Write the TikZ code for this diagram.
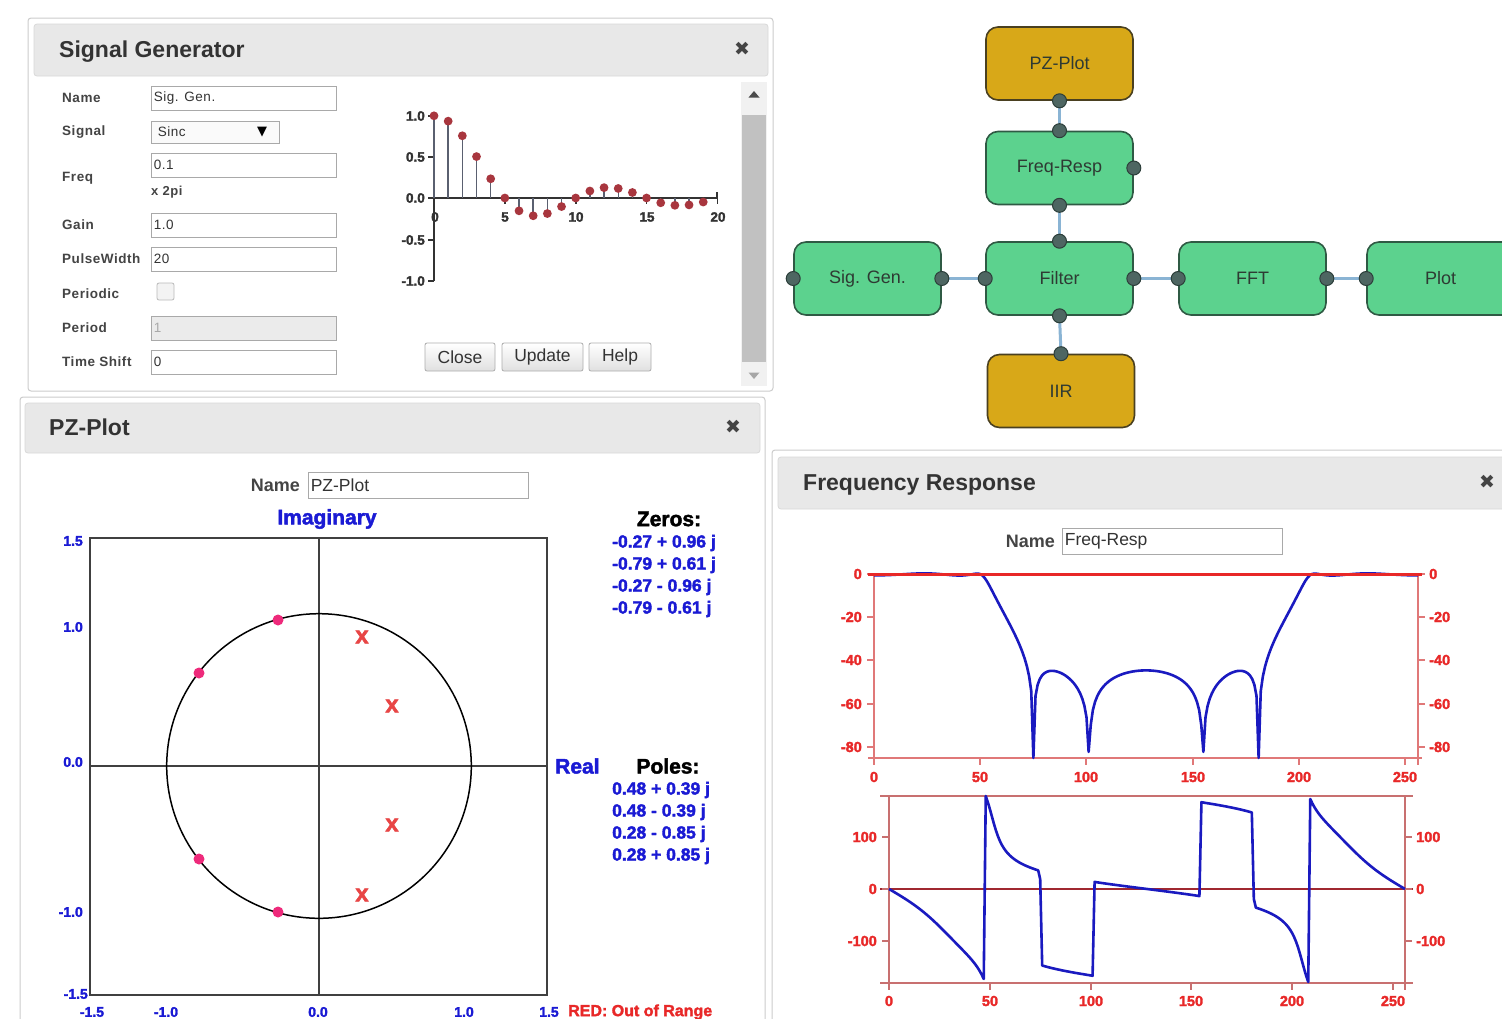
\documentclass[tikz,border=0pt]{standalone}
\usepackage{fontspec}
\setmainfont{Liberation Sans}
\newfontfamily\dejavu{DejaVu Sans}
\newfontfamily\spaced[LetterSpace=4]{Liberation Sans}
\newfontfamily\heavy[BoldFeatures={FakeBold=2}]{Liberation Sans}
\usepackage{pgfplots}
\pgfplotsset{compat=1.18}
\newcommand\fsz[1]{\fontsize{#1pt}{#1pt}\selectfont}

\definecolor{panelline}{HTML}{CCCCCC}
\definecolor{headgray}{HTML}{E8E8E8}
\definecolor{headline}{HTML}{D9D9D9}
\definecolor{titletext}{HTML}{333333}
\definecolor{labeltext}{HTML}{444444}
\definecolor{boxline}{HTML}{A9A9A9}
\definecolor{selectfill}{HTML}{FAFAFA}
\definecolor{periodfill}{HTML}{EBEBEB}
\definecolor{btnline}{HTML}{ADADAD}
\definecolor{btnbottom}{HTML}{E0E0E0}
\definecolor{trackfill}{HTML}{F1F1F1}
\definecolor{thumbfill}{HTML}{C1C1C1}
\definecolor{blockgreen}{HTML}{5CD28E}
\definecolor{blockgold}{HTML}{D8A818}
\definecolor{blockline}{HTML}{2F5A44}
\definecolor{goldline}{HTML}{4A4020}
\definecolor{blocktext}{HTML}{2E3A33}
\definecolor{portfill}{HTML}{4E6662}
\definecolor{portline}{HTML}{2C3E3A}
\definecolor{wirecol}{HTML}{8AB4D4}
\definecolor{stemline}{HTML}{5A6070}
\definecolor{stemdot}{HTML}{A8363E}
\definecolor{stemaxis}{HTML}{333333}
\definecolor{pzblue}{HTML}{1A1AD4}
\definecolor{pzframe}{HTML}{404040}
\definecolor{zeropink}{HTML}{EE2A7B}
\definecolor{polered}{HTML}{E84545}
\definecolor{axred}{HTML}{E07878}
\definecolor{topred}{HTML}{E82828}
\definecolor{labred}{HTML}{E82828}
\definecolor{phaxis}{HTML}{C87070}
\definecolor{zeroline}{HTML}{A02830}
\definecolor{curveblue}{HTML}{1A1AC0}

\tikzset{
  panel/.style={draw=panelline, line width=1pt, fill=white, rounded corners=3pt},
  header/.style={fill=headgray, draw=headline, line width=0.8pt, rounded corners=3pt},
  ptitle/.style={anchor=base west, font=\fsz{23}\bfseries, text=titletext, inner sep=0pt},
  closex/.style={font=\dejavu\fsz{19}, text=labeltext, inner sep=0pt},
  flabel/.style={anchor=west, font=\spaced\fsz{13.5}\bfseries, text=labeltext, inner sep=0pt},
  field/.style={draw=boxline, line width=0.8pt, fill=white, inner sep=0pt},
  ftext/.style={anchor=west, font=\spaced\fsz{13.5}, text=titletext, inner sep=0pt},
  btn/.style={draw=btnline, line width=0.8pt, rounded corners=2pt, top color=white,
    bottom color=btnbottom, minimum height=28pt, font=\fsz{17.5}, text=titletext, inner sep=0pt},
  slab/.style={font=\heavy\fsz{13.5}\bfseries, text=stemaxis, inner sep=0pt},
  saxis/.style={draw=stemaxis, line width=1.6pt},
  stem/.style={draw=stemline, line width=1.4pt},
  block/.style={rectangle, rounded corners=12pt, minimum width=147pt, minimum height=73pt,
    draw=blockline, line width=1.6pt, fill=blockgreen, font=\fsz{18}, text=blocktext},
  goldblock/.style={block, fill=blockgold, draw=goldline},
  port/.style={circle, fill=portfill, draw=portline, line width=1pt, minimum size=14pt, inner sep=0pt},
  wire/.style={draw=wirecol, line width=3pt},
  namelab/.style={anchor=east, font=\fsz{18}\bfseries, text=labeltext, inner sep=0pt},
  nametext/.style={anchor=west, font=\fsz{17.5}, text=titletext, inner sep=0pt},
  pzlab/.style={font=\heavy\fsz{14}\bfseries, text=pzblue, inner sep=0pt},
  pzhead/.style={font=\heavy\fsz{21}\bfseries, inner sep=0pt},
  pzval/.style={anchor=west, font=\heavy\fsz{17.5}\bfseries, text=pzblue, inner sep=0pt},
  zdot/.style={circle, fill=zeropink, minimum size=11pt, inner sep=0pt},
  pmark/.style={font=\heavy\fsz{24}\bfseries, text=polered, inner sep=0pt},
  mlab/.style={font=\heavy\fsz{14.5}\bfseries, text=labred, inner sep=0pt},
  maxis/.style={draw=axred, line width=1.5pt},
  paxis/.style={draw=phaxis, line width=1.5pt},
  curve/.style={draw=curveblue, line width=2.6pt, line join=round},
}

\begin{document}
\begin{tikzpicture}[x=1pt,y=-1pt]
\useasboundingbox (0,0) rectangle (1502,1018);
\fill[white] (0,0) rectangle (1502,1018);

% ---------------- Signal Generator dialog ----------------
\draw[panel] (28,18) rectangle (773,391);
\path[header] (34,24) rectangle (768,76);
\node[ptitle] (sgTitle) at (59,57) {Signal Generator};
\node[closex] (sgClose) at (742,49) {✖};

\foreach \lab/\yy [count=\i] in {Name/98, Signal/132, Freq/178, Gain/225,
    PulseWidth/259, Periodic/294, Period/328, Time Shift/362}
  \node[flabel] (sgLab\i) at (62,\yy) {\lab};

\node[field, minimum width=185pt, minimum height=24pt] (fName) at (243.5,98) {};
\node[ftext] (tName) at ([xshift=3pt]fName.west) {Sig. Gen.};
\node[field, fill=selectfill, minimum width=128pt, minimum height=22pt] (fSignal) at (215,132) {};
\node[ftext] (tSignal) at ([xshift=7pt]fSignal.west) {Sinc};
\node[font=\dejavu\fsz{13}, text=black, inner sep=0pt] (tArrow) at (262,132) {▼};
\node[field, minimum width=185pt, minimum height=24pt] (fFreq) at (243.5,165) {};
\node[ftext] (tFreq) at ([xshift=3pt]fFreq.west) {0.1};
\node[flabel, font=\spaced\fsz{13}\bfseries] (tUnit) at (151,192) {x 2pi};
\node[field, minimum width=185pt, minimum height=24pt] (fGain) at (243.5,225) {};
\node[ftext] (tGain) at ([xshift=3pt]fGain.west) {1.0};
\node[field, minimum width=185pt, minimum height=24pt] (fPulse) at (243.5,259) {};
\node[ftext] (tPulse) at ([xshift=3pt]fPulse.west) {20};
\node[field, fill=periodfill!60, draw=boxline!80, rounded corners=2pt,
      minimum size=17pt] (fPeriodic) at (165.5,291.5) {};
\node[field, fill=periodfill, minimum width=185pt, minimum height=24pt] (fPeriod) at (243.5,328) {};
\node[ftext, text=boxline] (tPeriod) at ([xshift=3pt]fPeriod.west) {1};
\node[field, minimum width=185pt, minimum height=24pt] (fShift) at (243.5,362) {};
\node[ftext] (tShift) at ([xshift=3pt]fShift.west) {0};

% stem plot of the generated sinc
\draw[saxis] (434,116) -- (434,281);
\foreach \yy in {116,157,198,240,281}
  \draw[saxis] (428,\yy) -- (434,\yy);
\draw[saxis] (434,198) -- (717,198);
\foreach \k in {0,...,4}
  \draw[saxis] ({434+70.85*\k},198) -- ({434+70.85*\k},204);
\draw[saxis] (717,192) -- (717,198);
\foreach \v/\yy in {1.0/116, 0.5/157, 0.0/198, -0.5/240, -1.0/281}
  \node[slab, anchor=east] (sy\yy) at (425,\yy) {\v};
\foreach \n/\xx in {0/435, 5/505, 10/576, 15/647, 20/718}
  \node[slab] (sx\n) at (\xx,217) {\n};
\foreach \v [count=\i from 0] in {1,0.935,0.757,0.504,0.234,0,-0.156,-0.216,-0.189,-0.104,
    0,0.085,0.126,0.116,0.067,0,-0.058,-0.089,-0.084,-0.049} {
  \draw[stem] ({434+14.17*\i},198) -- ({434+14.17*\i},{198-82.2*(\v)});
  \fill[stemdot] ({434+14.17*\i},{198-82.2*(\v)}) circle (4.4);
}

\node[btn, minimum width=70pt] (bClose) at (460,357) {Close};
\node[btn, minimum width=81pt] (bUpdate) at (542.5,357) {Update};
\node[btn, minimum width=62pt] (bHelp) at (620,357) {Help};

% scroll bar
\fill[trackfill] (741,82) rectangle (767,386);
\fill[thumbfill] (742,115) rectangle (766,362);
\fill[black!70] (748.5,97.5) -- (759.5,97.5) -- (754,91) -- cycle;
\fill[black!35] (748.5,372.5) -- (759.5,372.5) -- (754,379) -- cycle;

% ---------------- block diagram ----------------
\node[goldblock] (PZ) at (1059.5,63.5) {PZ-Plot};
\node[block] (FR) at (1059.5,168) {Freq-Resp};
\node[block] (SG) at (867.5,278.5) {Sig. Gen.};
\node[block] (FL) at (1059.5,278.5) {Filter};
\node[block] (FFT) at (1252.5,278.5) {FFT};
\node[block] (PL) at (1440.5,278.5) {Plot};
\node[goldblock] (IIR) at (1061,391) {IIR};

\draw[wire] (PZ.south) -- (FR.north);
\draw[wire] (FR.south) -- (FL.north);
\draw[wire] (SG.east) -- (FL.west);
\draw[wire] (FL.east) -- (FFT.west);
\draw[wire] (FFT.east) -- (PL.west);
\draw[wire] (FL.south) -- (IIR.north);

\foreach \a in {PZ.south, FR.north, FR.east, FR.south, SG.west, SG.east,
    FL.west, FL.north, FL.east, FL.south, FFT.west, FFT.east, PL.west, IIR.north}
  \node[port] at (\a) {};

% ---------------- PZ-Plot dialog ----------------
\draw[panel] (20,397) rectangle (765,1040);
\path[header] (25,403) rectangle (760,453);
\node[ptitle] (pzTitle) at (49,435) {PZ-Plot};
\node[closex] (pzClose) at (733,427) {✖};
\node[namelab] (pzName) at (300,485) {Name};
\node[field, minimum width=220pt, minimum height=26pt] (pzField) at (418,485) {};
\node[nametext] (pzFieldText) at ([xshift=3pt]pzField.west) {PZ-Plot};

\node[pzhead, text=pzblue] (imagLab) at (327,519) {Imaginary};
\draw[draw=pzframe, line width=2.2pt] (90,538) rectangle (547,995);
\draw[draw=pzframe, line width=1.8pt] (319,538) -- (319,995);
\draw[draw=pzframe, line width=1.8pt] (90,766) -- (547,766);
\draw[black, line width=1.5pt] (319,766) circle (152.3);

\foreach \v/\yy in {1.5/541, 1.0/627, 0.0/762, -1.0/912}
  \node[pzlab, anchor=east] at (83,\yy) {\v};
\node[pzlab, anchor=east] (ylm15) at (88,994) {-1.5};
\foreach \v/\xx [count=\i] in {-1.5/92, -1.0/166, 0.0/318, 1.0/464, 1.5/549}
  \node[pzlab] (xl\i) at (\xx,1012) {\v};
\node[pzhead, text=pzblue, anchor=west] (realLab) at (555,766) {Real};

\node[zdot] (z1) at (278,620) {};
\node[zdot] (z2) at (199,673) {};
\node[zdot] (z3) at (199,859) {};
\node[zdot] (z4) at (278,912) {};
\node[pmark] (p1) at (362,637) {x};
\node[pmark] (p2) at (392,706) {x};
\node[pmark] (p3) at (392,825) {x};
\node[pmark] (p4) at (362,895) {x};

\node[pzhead, text=black] (zerosLab) at (669,519) {Zeros:};
\node[pzval] (zv1) at (612,543) {-0.27 + 0.96 j};
\node[pzval] (zv2) at (612,565) {-0.79 + 0.61 j};
\node[pzval] (zv3) at (612,587) {-0.27 - 0.96 j};
\node[pzval] (zv4) at (612,609) {-0.79 - 0.61 j};
\node[pzhead, text=black] (polesLab) at (668,766) {Poles:};
\node[pzval] (pv1) at (612,790) {0.48 + 0.39 j};
\node[pzval] (pv2) at (612,812) {0.48 - 0.39 j};
\node[pzval] (pv3) at (612,834) {0.28 - 0.85 j};
\node[pzval] (pv4) at (612,856) {0.28 + 0.85 j};
\node[anchor=west, font=\heavy\fsz{16}\bfseries, text=labred, inner sep=0pt] (oor) at (568,1012) {RED: Out of Range};

% ---------------- Frequency Response dialog ----------------
\draw[panel] (772,450) rectangle (1530,1040);
\path[header] (778,457) rectangle (1525,509);
\node[ptitle] (frTitle) at (803,490) {Frequency Response};
\node[closex] (frClose) at (1487,482) {✖};
\node[namelab] (frName) at (1055,541) {Name};
\node[field, minimum width=220pt, minimum height=26pt] (frField) at (1172,541) {};
\node[nametext] (frFieldText) at ([xshift=3pt]frField.west) {Freq-Resp};

% magnitude (dB) frame
\draw[maxis] (874,574) -- (874,758);
\draw[maxis] (1418,574) -- (1418,765);
\draw[maxis] (868,758) -- (1422,758);
\foreach \v/\yy in {0/574, -20/617, -40/660, -60/704, -80/747} {
  \draw[maxis] (867,\yy) -- (874,\yy);
  \draw[maxis] (1418,\yy) -- (1425,\yy);
  \node[mlab, anchor=east] at (862,\yy) {\v};
  \node[mlab, anchor=west] at (1429,\yy) {\v};
}
\foreach \v/\xx in {0/874, 50/980, 100/1086, 150/1193, 200/1299, 250/1405} {
  \draw[maxis] (\xx,758) -- (\xx,765);
  \node[mlab] at (\xx,777) {\v};
}

\begin{axis}[at={(874pt,-758pt)}, anchor=south west, scale only axis,
  width=544pt, height=184pt, xmin=0, xmax=256, ymin=-85, ymax=0,
  hide axis, clip=false,
  declare function={
    dd(\ww,\re,\im)=(cos(1.40625*\ww)-(\re))^2+(sin(1.40625*\ww)-(\im))^2;
  }]
\addplot[curve, domain=0:256, samples=257]
  {max(-85, 10*log10(max(1e-30,
     dd(x,-0.26724,0.96363)*dd(x,-0.26724,-0.96363)*dd(x,-0.79122,0.61153)*dd(x,-0.79122,-0.61153)
     /(dd(x,0.48,0.39)*dd(x,0.48,-0.39)*dd(x,0.28,0.85)*dd(x,0.28,-0.85)))) - 25.4)};
\end{axis}
\draw[draw=topred, line width=3pt] (868,574) -- (1422,574);

% phase (degrees) frame
\draw[paxis] (880,796) -- (1413,796);
\draw[paxis] (880,983) -- (1413,983);
\draw[paxis] (889,796) -- (889,983);
\draw[paxis] (1405,796) -- (1405,990);
\draw[draw=zeroline, line width=1.3pt] (880,889) -- (1413,889);
\foreach \v/\yy in {100/837, 0/889, -100/941} {
  \draw[paxis] (882,\yy) -- (889,\yy);
  \draw[paxis] (1405,\yy) -- (1412,\yy);
  \node[mlab, anchor=east] at (877,\yy) {\v};
  \node[mlab, anchor=west] at (1416,\yy) {\v};
}
\foreach \v/\xx in {0/889, 50/990, 100/1091, 150/1191, 200/1292, 250/1393} {
  \draw[paxis] (\xx,983) -- (\xx,990);
  \node[mlab] at (\xx,1001) {\v};
}

\begin{axis}[at={(889pt,-983pt)}, anchor=south west, scale only axis,
  width=516pt, height=187pt, xmin=0, xmax=256, ymin=-180, ymax=178,
  hide axis, clip=false,
  declare function={
    pp(\ww,\re,\im)=atan2(sin(1.40625*\ww)-(\im),cos(1.40625*\ww)-(\re));
  }]
\addplot[curve, domain=0:256, samples=257]
  {mod(pp(x,-0.26724,0.96363)+pp(x,-0.26724,-0.96363)+pp(x,-0.79122,0.61153)+pp(x,-0.79122,-0.61153)
      -pp(x,0.48,0.39)-pp(x,0.48,-0.39)-pp(x,0.28,0.85)-pp(x,0.28,-0.85)+1980,360)-180};
\end{axis}
\end{tikzpicture}
\end{document}
